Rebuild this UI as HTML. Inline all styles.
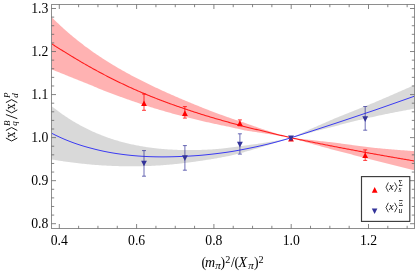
<!DOCTYPE html>
<html><head><meta charset="utf-8"><style>
html,body{margin:0;padding:0;background:#fff;}
svg{display:block;will-change:transform}
text{font-family:"Liberation Serif",serif;font-size:13.7px;fill:#000}
.it{font-style:italic}
</style></head><body>
<svg width="416" height="277" viewBox="0 0 416 277">
<rect width="416" height="277" fill="#fff"/>
<defs><clipPath id="c"><rect x="51.5" y="4.5" width="363.0" height="224.0"/></clipPath></defs>
<g clip-path="url(#c)">
<path d="M50.0,104.86 L51.0,105.67 L52.0,106.47 L53.0,107.27 L54.0,108.05 L55.0,108.82 L56.0,109.58 L57.0,110.34 L58.0,111.08 L59.0,111.82 L60.0,112.54 L61.0,113.26 L62.0,113.96 L63.0,114.66 L64.0,115.35 L65.0,116.03 L66.0,116.70 L67.0,117.36 L68.0,118.01 L69.0,118.65 L70.0,119.29 L71.0,119.91 L72.0,120.53 L73.0,121.14 L74.0,121.74 L75.0,122.33 L76.0,122.92 L77.0,123.49 L78.0,124.06 L79.0,124.62 L80.0,125.17 L81.0,125.72 L82.0,126.25 L83.0,126.78 L84.0,127.30 L85.0,127.81 L86.0,128.32 L87.0,128.81 L88.0,129.30 L89.0,129.79 L90.0,130.26 L91.0,130.73 L92.0,131.19 L93.0,131.64 L94.0,132.09 L95.0,132.53 L96.0,132.96 L97.0,133.39 L98.0,133.81 L99.0,134.22 L100.0,134.62 L101.0,135.02 L102.0,135.42 L103.0,135.80 L104.0,136.18 L105.0,136.55 L106.0,136.92 L107.0,137.28 L108.0,137.63 L109.0,137.98 L110.0,138.32 L111.0,138.66 L112.0,138.99 L113.0,139.31 L114.0,139.63 L115.0,139.94 L116.0,140.25 L117.0,140.55 L118.0,140.84 L119.0,141.13 L120.0,141.41 L121.0,141.69 L122.0,141.96 L123.0,142.23 L124.0,142.49 L125.0,142.75 L126.0,143.00 L127.0,143.24 L128.0,143.48 L129.0,143.72 L130.0,143.95 L131.0,144.18 L132.0,144.40 L133.0,144.61 L134.0,144.82 L135.0,145.03 L136.0,145.23 L137.0,145.42 L138.0,145.62 L139.0,145.80 L140.0,145.98 L141.0,146.16 L142.0,146.33 L143.0,146.50 L144.0,146.67 L145.0,146.83 L146.0,146.98 L147.0,147.13 L148.0,147.28 L149.0,147.42 L150.0,147.56 L151.0,147.70 L152.0,147.83 L153.0,147.95 L154.0,148.07 L155.0,148.19 L156.0,148.31 L157.0,148.42 L158.0,148.52 L159.0,148.63 L160.0,148.72 L161.0,148.82 L162.0,148.91 L163.0,149.00 L164.0,149.08 L165.0,149.16 L166.0,149.24 L167.0,149.31 L168.0,149.38 L169.0,149.45 L170.0,149.51 L171.0,149.57 L172.0,149.62 L173.0,149.68 L174.0,149.73 L175.0,149.77 L176.0,149.81 L177.0,149.85 L178.0,149.89 L179.0,149.92 L180.0,149.95 L181.0,149.98 L182.0,150.00 L183.0,150.02 L184.0,150.04 L185.0,150.06 L186.0,150.07 L187.0,150.08 L188.0,150.08 L189.0,150.08 L190.0,150.08 L191.0,150.08 L192.0,150.08 L193.0,150.07 L194.0,150.06 L195.0,150.04 L196.0,150.02 L197.0,150.00 L198.0,149.98 L199.0,149.96 L200.0,149.93 L201.0,149.90 L202.0,149.87 L203.0,149.83 L204.0,149.79 L205.0,149.75 L206.0,149.71 L207.0,149.66 L208.0,149.61 L209.0,149.56 L210.0,149.51 L211.0,149.46 L212.0,149.40 L213.0,149.34 L214.0,149.27 L215.0,149.21 L216.0,149.12 L217.0,149.02 L218.0,148.93 L219.0,148.83 L220.0,148.73 L221.0,148.63 L222.0,148.52 L223.0,148.42 L224.0,148.31 L225.0,148.19 L226.0,148.08 L227.0,147.96 L228.0,147.85 L229.0,147.73 L230.0,147.60 L231.0,147.48 L232.0,147.35 L233.0,147.22 L234.0,147.09 L235.0,146.96 L236.0,146.82 L237.0,146.68 L238.0,146.54 L239.0,146.40 L240.0,146.25 L241.0,146.11 L242.0,145.96 L243.0,145.81 L244.0,145.65 L245.0,145.50 L246.0,145.38 L247.0,145.25 L248.0,145.13 L249.0,145.00 L250.0,144.87 L251.0,144.74 L252.0,144.61 L253.0,144.47 L254.0,144.34 L255.0,144.20 L256.0,144.05 L257.0,143.91 L258.0,143.76 L259.0,143.62 L260.0,143.47 L261.0,143.31 L262.0,143.16 L263.0,143.00 L264.0,142.84 L265.0,142.68 L266.0,142.52 L267.0,142.35 L268.0,142.19 L269.0,142.02 L270.0,141.84 L271.0,141.67 L272.0,141.49 L273.0,141.31 L274.0,141.13 L275.0,140.95 L276.0,140.77 L277.0,140.59 L278.0,140.41 L279.0,140.22 L280.0,140.03 L281.0,139.84 L282.0,139.65 L283.0,139.45 L284.0,139.25 L285.0,139.05 L286.0,138.85 L287.0,138.64 L288.0,138.44 L289.0,138.23 L290.0,138.01 L291.0,137.80 L292.0,137.36 L293.0,136.91 L294.0,136.47 L295.0,136.02 L296.0,135.57 L297.0,135.13 L298.0,134.68 L299.0,134.23 L300.0,133.79 L301.0,133.34 L302.0,132.89 L303.0,132.44 L304.0,131.99 L305.0,131.54 L306.0,131.09 L307.0,130.64 L308.0,130.19 L309.0,129.74 L310.0,129.29 L311.0,128.86 L312.0,128.42 L313.0,127.99 L314.0,127.55 L315.0,127.12 L316.0,126.68 L317.0,126.25 L318.0,125.81 L319.0,125.37 L320.0,124.94 L321.0,124.50 L322.0,124.06 L323.0,123.62 L324.0,123.18 L325.0,122.74 L326.0,122.30 L327.0,121.86 L328.0,121.42 L329.0,120.98 L330.0,120.54 L331.0,120.10 L332.0,119.66 L333.0,119.21 L334.0,118.77 L335.0,118.33 L336.0,117.93 L337.0,117.54 L338.0,117.14 L339.0,116.75 L340.0,116.35 L341.0,115.95 L342.0,115.56 L343.0,115.16 L344.0,114.76 L345.0,114.36 L346.0,113.96 L347.0,113.56 L348.0,113.16 L349.0,112.76 L350.0,112.36 L351.0,111.96 L352.0,111.56 L353.0,111.16 L354.0,110.76 L355.0,110.36 L356.0,109.95 L357.0,109.55 L358.0,109.15 L359.0,108.74 L360.0,108.34 L361.0,107.93 L362.0,107.53 L363.0,107.12 L364.0,106.72 L365.0,106.31 L366.0,105.90 L367.0,105.50 L368.0,105.09 L369.0,104.68 L370.0,104.27 L371.0,103.86 L372.0,103.45 L373.0,103.04 L374.0,102.63 L375.0,102.22 L376.0,101.80 L377.0,101.37 L378.0,100.94 L379.0,100.51 L380.0,100.09 L381.0,99.66 L382.0,99.23 L383.0,98.80 L384.0,98.37 L385.0,97.94 L386.0,97.51 L387.0,97.07 L388.0,96.64 L389.0,96.21 L390.0,95.78 L391.0,95.34 L392.0,94.91 L393.0,94.48 L394.0,94.04 L395.0,93.61 L396.0,93.17 L397.0,92.74 L398.0,92.30 L399.0,91.87 L400.0,91.43 L401.0,90.99 L402.0,90.56 L403.0,90.12 L404.0,89.68 L405.0,89.24 L406.0,88.80 L407.0,88.36 L408.0,87.92 L409.0,87.48 L410.0,87.04 L411.0,86.60 L412.0,86.16 L413.0,85.72 L414.0,85.28 L415.0,84.83 L416.0,84.39 L417.0,83.95 L417.0,108.26 L416.0,108.43 L415.0,108.60 L414.0,108.77 L413.0,108.95 L412.0,109.12 L411.0,109.30 L410.0,109.48 L409.0,109.66 L408.0,109.84 L407.0,110.02 L406.0,110.20 L405.0,110.38 L404.0,110.57 L403.0,110.76 L402.0,110.94 L401.0,111.13 L400.0,111.32 L399.0,111.51 L398.0,111.71 L397.0,111.90 L396.0,112.09 L395.0,112.29 L394.0,112.49 L393.0,112.69 L392.0,112.89 L391.0,113.09 L390.0,113.29 L389.0,113.49 L388.0,113.70 L387.0,113.90 L386.0,114.11 L385.0,114.32 L384.0,114.52 L383.0,114.74 L382.0,114.95 L381.0,115.16 L380.0,115.37 L379.0,115.59 L378.0,115.81 L377.0,116.02 L376.0,116.24 L375.0,116.46 L374.0,116.68 L373.0,116.90 L372.0,117.13 L371.0,117.35 L370.0,117.57 L369.0,117.80 L368.0,118.03 L367.0,118.25 L366.0,118.48 L365.0,118.71 L364.0,118.95 L363.0,119.18 L362.0,119.41 L361.0,119.65 L360.0,119.89 L359.0,120.12 L358.0,120.36 L357.0,120.60 L356.0,120.85 L355.0,121.09 L354.0,121.33 L353.0,121.58 L352.0,121.82 L351.0,122.07 L350.0,122.32 L349.0,122.57 L348.0,122.82 L347.0,123.07 L346.0,123.33 L345.0,123.58 L344.0,123.84 L343.0,124.10 L342.0,124.35 L341.0,124.61 L340.0,124.87 L339.0,125.14 L338.0,125.40 L337.0,125.66 L336.0,125.93 L335.0,126.20 L334.0,126.44 L333.0,126.69 L332.0,126.93 L331.0,127.18 L330.0,127.43 L329.0,127.68 L328.0,127.93 L327.0,128.19 L326.0,128.44 L325.0,128.70 L324.0,128.95 L323.0,129.21 L322.0,129.47 L321.0,129.73 L320.0,129.99 L319.0,130.25 L318.0,130.52 L317.0,130.78 L316.0,131.05 L315.0,131.32 L314.0,131.58 L313.0,131.85 L312.0,132.13 L311.0,132.40 L310.0,132.67 L309.0,132.93 L308.0,133.19 L307.0,133.45 L306.0,133.71 L305.0,133.98 L304.0,134.24 L303.0,134.51 L302.0,134.78 L301.0,135.05 L300.0,135.32 L299.0,135.59 L298.0,135.86 L297.0,136.13 L296.0,136.41 L295.0,136.68 L294.0,136.96 L293.0,137.24 L292.0,137.52 L291.0,137.80 L290.0,138.13 L289.0,138.46 L288.0,138.78 L287.0,139.11 L286.0,139.44 L285.0,139.76 L284.0,140.09 L283.0,140.41 L282.0,140.73 L281.0,141.05 L280.0,141.37 L279.0,141.69 L278.0,142.01 L277.0,142.33 L276.0,142.65 L275.0,142.96 L274.0,143.28 L273.0,143.59 L272.0,143.90 L271.0,144.22 L270.0,144.53 L269.0,144.84 L268.0,145.15 L267.0,145.45 L266.0,145.76 L265.0,146.06 L264.0,146.37 L263.0,146.67 L262.0,146.97 L261.0,147.27 L260.0,147.57 L259.0,147.87 L258.0,148.16 L257.0,148.45 L256.0,148.75 L255.0,149.04 L254.0,149.33 L253.0,149.62 L252.0,149.90 L251.0,150.19 L250.0,150.47 L249.0,150.75 L248.0,151.03 L247.0,151.31 L246.0,151.59 L245.0,151.86 L244.0,152.14 L243.0,152.42 L242.0,152.69 L241.0,152.96 L240.0,153.23 L239.0,153.50 L238.0,153.77 L237.0,154.03 L236.0,154.29 L235.0,154.55 L234.0,154.81 L233.0,155.07 L232.0,155.33 L231.0,155.53 L230.0,155.74 L229.0,155.94 L228.0,156.14 L227.0,156.34 L226.0,156.53 L225.0,156.73 L224.0,156.92 L223.0,157.11 L222.0,157.30 L221.0,157.48 L220.0,157.67 L219.0,157.85 L218.0,158.03 L217.0,158.21 L216.0,158.38 L215.0,158.56 L214.0,158.73 L213.0,158.90 L212.0,159.07 L211.0,159.23 L210.0,159.40 L209.0,159.56 L208.0,159.72 L207.0,159.87 L206.0,160.03 L205.0,160.18 L204.0,160.33 L203.0,160.48 L202.0,160.63 L201.0,160.77 L200.0,160.91 L199.0,161.07 L198.0,161.22 L197.0,161.37 L196.0,161.52 L195.0,161.66 L194.0,161.81 L193.0,161.95 L192.0,162.08 L191.0,162.22 L190.0,162.35 L189.0,162.49 L188.0,162.61 L187.0,162.74 L186.0,162.87 L185.0,162.99 L184.0,163.11 L183.0,163.23 L182.0,163.34 L181.0,163.45 L180.0,163.56 L179.0,163.68 L178.0,163.79 L177.0,163.90 L176.0,164.00 L175.0,164.11 L174.0,164.21 L173.0,164.31 L172.0,164.41 L171.0,164.50 L170.0,164.59 L169.0,164.68 L168.0,164.77 L167.0,164.86 L166.0,164.94 L165.0,165.02 L164.0,165.09 L163.0,165.17 L162.0,165.24 L161.0,165.31 L160.0,165.38 L159.0,165.44 L158.0,165.51 L157.0,165.57 L156.0,165.62 L155.0,165.68 L154.0,165.73 L153.0,165.78 L152.0,165.83 L151.0,165.88 L150.0,165.92 L149.0,165.96 L148.0,166.00 L147.0,166.03 L146.0,166.06 L145.0,166.09 L144.0,166.12 L143.0,166.15 L142.0,166.17 L141.0,166.19 L140.0,166.21 L139.0,166.22 L138.0,166.24 L137.0,166.25 L136.0,166.25 L135.0,166.26 L134.0,166.26 L133.0,166.26 L132.0,166.26 L131.0,166.25 L130.0,166.25 L129.0,166.25 L128.0,166.25 L127.0,166.25 L126.0,166.24 L125.0,166.23 L124.0,166.22 L123.0,166.21 L122.0,166.20 L121.0,166.18 L120.0,166.16 L119.0,166.14 L118.0,166.11 L117.0,166.08 L116.0,166.05 L115.0,166.02 L114.0,165.99 L113.0,165.95 L112.0,165.91 L111.0,165.87 L110.0,165.83 L109.0,165.78 L108.0,165.73 L107.0,165.68 L106.0,165.62 L105.0,165.57 L104.0,165.51 L103.0,165.45 L102.0,165.39 L101.0,165.32 L100.0,165.25 L99.0,165.18 L98.0,165.11 L97.0,165.03 L96.0,164.96 L95.0,164.88 L94.0,164.80 L93.0,164.71 L92.0,164.63 L91.0,164.54 L90.0,164.45 L89.0,164.36 L88.0,164.27 L87.0,164.17 L86.0,164.07 L85.0,163.97 L84.0,163.87 L83.0,163.77 L82.0,163.66 L81.0,163.55 L80.0,163.44 L79.0,163.33 L78.0,163.21 L77.0,163.10 L76.0,162.98 L75.0,162.86 L74.0,162.73 L73.0,162.61 L72.0,162.48 L71.0,162.35 L70.0,162.22 L69.0,162.08 L68.0,161.95 L67.0,161.81 L66.0,161.67 L65.0,161.53 L64.0,161.38 L63.0,161.24 L62.0,161.09 L61.0,160.94 L60.0,160.79 L59.0,160.64 L58.0,160.48 L57.0,160.32 L56.0,160.17 L55.0,160.00 L54.0,159.84 L53.0,159.68 L52.0,159.51 L51.0,159.33 L50.0,159.15Z" fill="#808080" fill-opacity="0.3"/>
<path d="M50.0,15.45 L51.0,16.47 L52.0,17.48 L53.0,18.48 L54.0,19.47 L55.0,20.45 L56.0,21.42 L57.0,22.38 L58.0,23.34 L59.0,24.28 L60.0,25.22 L61.0,26.15 L62.0,27.07 L63.0,27.98 L64.0,28.88 L65.0,29.78 L66.0,30.67 L67.0,31.55 L68.0,32.42 L69.0,33.28 L70.0,34.14 L71.0,34.99 L72.0,35.83 L73.0,36.67 L74.0,37.49 L75.0,38.31 L76.0,39.12 L77.0,39.93 L78.0,40.73 L79.0,41.52 L80.0,42.30 L81.0,43.08 L82.0,43.85 L83.0,44.62 L84.0,45.38 L85.0,46.13 L86.0,46.88 L87.0,47.62 L88.0,48.35 L89.0,49.08 L90.0,49.80 L91.0,50.51 L92.0,51.22 L93.0,51.93 L94.0,52.63 L95.0,53.32 L96.0,54.01 L97.0,54.69 L98.0,55.37 L99.0,56.04 L100.0,56.70 L101.0,57.37 L102.0,58.02 L103.0,58.67 L104.0,59.32 L105.0,59.96 L106.0,60.60 L107.0,61.23 L108.0,61.86 L109.0,62.48 L110.0,63.10 L111.0,63.71 L112.0,64.32 L113.0,64.92 L114.0,65.52 L115.0,66.12 L116.0,66.71 L117.0,67.30 L118.0,67.89 L119.0,68.47 L120.0,69.04 L121.0,69.61 L122.0,70.18 L123.0,70.75 L124.0,71.31 L125.0,71.87 L126.0,72.42 L127.0,72.97 L128.0,73.52 L129.0,74.06 L130.0,74.60 L131.0,75.14 L132.0,75.68 L133.0,76.21 L134.0,76.73 L135.0,77.26 L136.0,77.78 L137.0,78.30 L138.0,78.82 L139.0,79.33 L140.0,79.84 L141.0,80.35 L142.0,80.85 L143.0,81.35 L144.0,81.85 L145.0,82.35 L146.0,82.84 L147.0,83.33 L148.0,83.82 L149.0,84.31 L150.0,84.79 L151.0,85.28 L152.0,85.76 L153.0,86.23 L154.0,86.71 L155.0,87.18 L156.0,87.65 L157.0,88.12 L158.0,88.59 L159.0,89.05 L160.0,89.51 L161.0,89.97 L162.0,90.43 L163.0,90.89 L164.0,91.34 L165.0,91.80 L166.0,92.25 L167.0,92.70 L168.0,93.15 L169.0,93.59 L170.0,94.04 L171.0,94.48 L172.0,94.92 L173.0,95.36 L174.0,95.79 L175.0,96.23 L176.0,96.67 L177.0,97.10 L178.0,97.53 L179.0,97.96 L180.0,98.39 L181.0,98.81 L182.0,99.24 L183.0,99.66 L184.0,100.09 L185.0,100.51 L186.0,100.93 L187.0,101.35 L188.0,101.76 L189.0,102.18 L190.0,102.60 L191.0,103.01 L192.0,103.42 L193.0,103.83 L194.0,104.24 L195.0,104.65 L196.0,105.06 L197.0,105.47 L198.0,105.87 L199.0,106.27 L200.0,106.68 L201.0,107.08 L202.0,107.48 L203.0,107.88 L204.0,108.28 L205.0,108.68 L206.0,109.07 L207.0,109.47 L208.0,109.86 L209.0,110.25 L210.0,110.64 L211.0,111.04 L212.0,111.42 L213.0,111.81 L214.0,112.20 L215.0,112.59 L216.0,112.95 L217.0,113.32 L218.0,113.68 L219.0,114.04 L220.0,114.40 L221.0,114.76 L222.0,115.12 L223.0,115.48 L224.0,115.83 L225.0,116.19 L226.0,116.54 L227.0,116.90 L228.0,117.25 L229.0,117.60 L230.0,117.95 L231.0,118.29 L232.0,118.63 L233.0,118.97 L234.0,119.31 L235.0,119.64 L236.0,119.98 L237.0,120.31 L238.0,120.65 L239.0,120.98 L240.0,121.31 L241.0,121.64 L242.0,121.97 L243.0,122.29 L244.0,122.62 L245.0,122.94 L246.0,123.30 L247.0,123.67 L248.0,124.03 L249.0,124.38 L250.0,124.74 L251.0,125.09 L252.0,125.45 L253.0,125.80 L254.0,126.15 L255.0,126.50 L256.0,126.85 L257.0,127.19 L258.0,127.54 L259.0,127.88 L260.0,128.22 L261.0,128.56 L262.0,128.89 L263.0,129.23 L264.0,129.56 L265.0,129.89 L266.0,130.22 L267.0,130.55 L268.0,130.87 L269.0,131.20 L270.0,131.52 L271.0,131.84 L272.0,132.15 L273.0,132.47 L274.0,132.78 L275.0,133.09 L276.0,133.40 L277.0,133.71 L278.0,134.02 L279.0,134.33 L280.0,134.63 L281.0,134.93 L282.0,135.23 L283.0,135.53 L284.0,135.82 L285.0,136.11 L286.0,136.40 L287.0,136.69 L288.0,136.97 L289.0,137.25 L290.0,137.53 L291.0,137.80 L292.0,137.91 L293.0,138.03 L294.0,138.14 L295.0,138.25 L296.0,138.37 L297.0,138.48 L298.0,138.59 L299.0,138.70 L300.0,138.81 L301.0,138.92 L302.0,139.03 L303.0,139.13 L304.0,139.24 L305.0,139.35 L306.0,139.45 L307.0,139.56 L308.0,139.66 L309.0,139.77 L310.0,139.87 L311.0,139.99 L312.0,140.11 L313.0,140.22 L314.0,140.34 L315.0,140.46 L316.0,140.57 L317.0,140.69 L318.0,140.80 L319.0,140.91 L320.0,141.03 L321.0,141.14 L322.0,141.25 L323.0,141.36 L324.0,141.47 L325.0,141.58 L326.0,141.69 L327.0,141.80 L328.0,141.91 L329.0,142.01 L330.0,142.12 L331.0,142.23 L332.0,142.33 L333.0,142.44 L334.0,142.54 L335.0,142.64 L336.0,142.79 L337.0,142.93 L338.0,143.07 L339.0,143.21 L340.0,143.36 L341.0,143.50 L342.0,143.64 L343.0,143.78 L344.0,143.91 L345.0,144.05 L346.0,144.19 L347.0,144.33 L348.0,144.46 L349.0,144.60 L350.0,144.73 L351.0,144.87 L352.0,145.00 L353.0,145.13 L354.0,145.27 L355.0,145.40 L356.0,145.53 L357.0,145.66 L358.0,145.79 L359.0,145.92 L360.0,146.05 L361.0,146.18 L362.0,146.30 L363.0,146.43 L364.0,146.56 L365.0,146.68 L366.0,146.81 L367.0,146.93 L368.0,147.06 L369.0,147.18 L370.0,147.30 L371.0,147.42 L372.0,147.54 L373.0,147.67 L374.0,147.78 L375.0,147.90 L376.0,148.00 L377.0,148.09 L378.0,148.18 L379.0,148.28 L380.0,148.37 L381.0,148.46 L382.0,148.55 L383.0,148.64 L384.0,148.73 L385.0,148.81 L386.0,148.90 L387.0,148.99 L388.0,149.07 L389.0,149.16 L390.0,149.24 L391.0,149.33 L392.0,149.41 L393.0,149.50 L394.0,149.58 L395.0,149.66 L396.0,149.74 L397.0,149.82 L398.0,149.90 L399.0,149.98 L400.0,150.06 L401.0,150.14 L402.0,150.22 L403.0,150.29 L404.0,150.37 L405.0,150.44 L406.0,150.52 L407.0,150.59 L408.0,150.67 L409.0,150.74 L410.0,150.81 L411.0,150.88 L412.0,150.96 L413.0,151.03 L414.0,151.10 L415.0,151.17 L416.0,151.23 L417.0,151.30 L417.0,171.08 L416.0,170.83 L415.0,170.58 L414.0,170.33 L413.0,170.08 L412.0,169.83 L411.0,169.58 L410.0,169.33 L409.0,169.07 L408.0,168.82 L407.0,168.57 L406.0,168.32 L405.0,168.07 L404.0,167.82 L403.0,167.56 L402.0,167.31 L401.0,167.06 L400.0,166.81 L399.0,166.56 L398.0,166.30 L397.0,166.05 L396.0,165.80 L395.0,165.54 L394.0,165.29 L393.0,165.04 L392.0,164.78 L391.0,164.53 L390.0,164.28 L389.0,164.02 L388.0,163.77 L387.0,163.52 L386.0,163.26 L385.0,163.01 L384.0,162.75 L383.0,162.50 L382.0,162.24 L381.0,161.99 L380.0,161.73 L379.0,161.48 L378.0,161.22 L377.0,160.97 L376.0,160.71 L375.0,160.46 L374.0,160.21 L373.0,159.95 L372.0,159.70 L371.0,159.45 L370.0,159.20 L369.0,158.94 L368.0,158.69 L367.0,158.44 L366.0,158.18 L365.0,157.93 L364.0,157.68 L363.0,157.42 L362.0,157.17 L361.0,156.91 L360.0,156.66 L359.0,156.40 L358.0,156.15 L357.0,155.90 L356.0,155.64 L355.0,155.39 L354.0,155.13 L353.0,154.88 L352.0,154.62 L351.0,154.37 L350.0,154.11 L349.0,153.86 L348.0,153.60 L347.0,153.34 L346.0,153.09 L345.0,152.83 L344.0,152.58 L343.0,152.32 L342.0,152.06 L341.0,151.81 L340.0,151.55 L339.0,151.29 L338.0,151.04 L337.0,150.78 L336.0,150.52 L335.0,150.27 L334.0,149.99 L333.0,149.71 L332.0,149.44 L331.0,149.16 L330.0,148.88 L329.0,148.60 L328.0,148.33 L327.0,148.05 L326.0,147.77 L325.0,147.49 L324.0,147.21 L323.0,146.94 L322.0,146.66 L321.0,146.38 L320.0,146.10 L319.0,145.82 L318.0,145.54 L317.0,145.26 L316.0,144.99 L315.0,144.71 L314.0,144.43 L313.0,144.15 L312.0,143.87 L311.0,143.59 L310.0,143.31 L309.0,143.02 L308.0,142.73 L307.0,142.44 L306.0,142.15 L305.0,141.86 L304.0,141.57 L303.0,141.28 L302.0,141.00 L301.0,140.71 L300.0,140.42 L299.0,140.13 L298.0,139.83 L297.0,139.54 L296.0,139.25 L295.0,138.96 L294.0,138.67 L293.0,138.38 L292.0,138.09 L291.0,137.80 L290.0,137.62 L289.0,137.44 L288.0,137.26 L287.0,137.08 L286.0,136.91 L285.0,136.73 L284.0,136.56 L283.0,136.39 L282.0,136.22 L281.0,136.06 L280.0,135.89 L279.0,135.73 L278.0,135.56 L277.0,135.40 L276.0,135.24 L275.0,135.08 L274.0,134.92 L273.0,134.76 L272.0,134.59 L271.0,134.43 L270.0,134.28 L269.0,134.12 L268.0,133.96 L267.0,133.80 L266.0,133.65 L265.0,133.49 L264.0,133.34 L263.0,133.18 L262.0,133.03 L261.0,132.87 L260.0,132.72 L259.0,132.57 L258.0,132.41 L257.0,132.26 L256.0,132.11 L255.0,131.96 L254.0,131.81 L253.0,131.66 L252.0,131.50 L251.0,131.35 L250.0,131.20 L249.0,131.05 L248.0,130.90 L247.0,130.74 L246.0,130.59 L245.0,130.44 L244.0,130.21 L243.0,129.99 L242.0,129.76 L241.0,129.53 L240.0,129.31 L239.0,129.08 L238.0,128.85 L237.0,128.62 L236.0,128.39 L235.0,128.16 L234.0,127.93 L233.0,127.70 L232.0,127.47 L231.0,127.24 L230.0,127.00 L229.0,126.80 L228.0,126.60 L227.0,126.40 L226.0,126.20 L225.0,125.99 L224.0,125.79 L223.0,125.58 L222.0,125.38 L221.0,125.17 L220.0,124.96 L219.0,124.75 L218.0,124.54 L217.0,124.33 L216.0,124.12 L215.0,123.90 L214.0,123.69 L213.0,123.47 L212.0,123.26 L211.0,123.04 L210.0,122.82 L209.0,122.59 L208.0,122.37 L207.0,122.15 L206.0,121.92 L205.0,121.69 L204.0,121.47 L203.0,121.24 L202.0,121.01 L201.0,120.77 L200.0,120.54 L199.0,120.30 L198.0,120.07 L197.0,119.83 L196.0,119.59 L195.0,119.34 L194.0,119.10 L193.0,118.86 L192.0,118.61 L191.0,118.36 L190.0,118.11 L189.0,117.86 L188.0,117.61 L187.0,117.35 L186.0,117.09 L185.0,116.84 L184.0,116.57 L183.0,116.31 L182.0,116.05 L181.0,115.78 L180.0,115.52 L179.0,115.26 L178.0,114.99 L177.0,114.73 L176.0,114.46 L175.0,114.19 L174.0,113.92 L173.0,113.65 L172.0,113.38 L171.0,113.10 L170.0,112.82 L169.0,112.54 L168.0,112.26 L167.0,111.98 L166.0,111.70 L165.0,111.41 L164.0,111.12 L163.0,110.83 L162.0,110.54 L161.0,110.24 L160.0,109.95 L159.0,109.65 L158.0,109.35 L157.0,109.05 L156.0,108.74 L155.0,108.44 L154.0,108.13 L153.0,107.82 L152.0,107.51 L151.0,107.20 L150.0,106.88 L149.0,106.56 L148.0,106.24 L147.0,105.92 L146.0,105.60 L145.0,105.28 L144.0,104.95 L143.0,104.62 L142.0,104.29 L141.0,103.96 L140.0,103.63 L139.0,103.29 L138.0,102.96 L137.0,102.62 L136.0,102.28 L135.0,101.93 L134.0,101.59 L133.0,101.24 L132.0,100.90 L131.0,100.55 L130.0,100.20 L129.0,99.85 L128.0,99.50 L127.0,99.15 L126.0,98.79 L125.0,98.44 L124.0,98.08 L123.0,97.72 L122.0,97.36 L121.0,97.00 L120.0,96.64 L119.0,96.27 L118.0,95.91 L117.0,95.54 L116.0,95.17 L115.0,94.80 L114.0,94.43 L113.0,94.05 L112.0,93.68 L111.0,93.30 L110.0,92.93 L109.0,92.55 L108.0,92.17 L107.0,91.78 L106.0,91.40 L105.0,91.02 L104.0,90.63 L103.0,90.24 L102.0,89.86 L101.0,89.47 L100.0,89.08 L99.0,88.64 L98.0,88.20 L97.0,87.76 L96.0,87.33 L95.0,86.89 L94.0,86.44 L93.0,86.00 L92.0,85.56 L91.0,85.17 L90.0,84.77 L89.0,84.38 L88.0,83.99 L87.0,83.59 L86.0,83.20 L85.0,82.80 L84.0,82.40 L83.0,82.00 L82.0,81.61 L81.0,81.21 L80.0,80.81 L79.0,80.41 L78.0,80.01 L77.0,79.60 L76.0,79.20 L75.0,78.80 L74.0,78.40 L73.0,77.99 L72.0,77.59 L71.0,77.19 L70.0,76.78 L69.0,76.38 L68.0,75.98 L67.0,75.57 L66.0,75.17 L65.0,74.76 L64.0,74.36 L63.0,73.95 L62.0,73.55 L61.0,73.15 L60.0,72.74 L59.0,72.34 L58.0,71.93 L57.0,71.53 L56.0,71.13 L55.0,70.73 L54.0,70.32 L53.0,69.92 L52.0,69.52 L51.0,69.11 L50.0,68.69Z" fill="#ff0000" fill-opacity="0.3"/>
<path d="M50.0,132.33 L51.0,132.88 L52.0,133.42 L53.0,133.93 L54.0,134.44 L55.0,134.94 L56.0,135.43 L57.0,135.91 L58.0,136.38 L59.0,136.85 L60.0,137.31 L61.0,137.76 L62.0,138.21 L63.0,138.64 L64.0,139.08 L65.0,139.50 L66.0,139.91 L67.0,140.32 L68.0,140.73 L69.0,141.12 L70.0,141.51 L71.0,141.89 L72.0,142.27 L73.0,142.64 L74.0,143.00 L75.0,143.35 L76.0,143.70 L77.0,144.04 L78.0,144.38 L79.0,144.71 L80.0,145.03 L81.0,145.35 L82.0,145.66 L83.0,145.97 L84.0,146.27 L85.0,146.56 L86.0,146.85 L87.0,147.13 L88.0,147.41 L89.0,147.68 L90.0,147.94 L91.0,148.20 L92.0,148.45 L93.0,148.72 L94.0,148.98 L95.0,149.24 L96.0,149.49 L97.0,149.74 L98.0,149.98 L99.0,150.21 L100.0,150.44 L101.0,150.67 L102.0,150.89 L103.0,151.11 L104.0,151.32 L105.0,151.52 L106.0,151.72 L107.0,151.92 L108.0,152.11 L109.0,152.30 L110.0,152.48 L111.0,152.66 L112.0,152.83 L113.0,153.00 L114.0,153.16 L115.0,153.32 L116.0,153.48 L117.0,153.63 L118.0,153.77 L119.0,153.92 L120.0,154.06 L121.0,154.20 L122.0,154.33 L123.0,154.47 L124.0,154.60 L125.0,154.72 L126.0,154.84 L127.0,154.96 L128.0,155.07 L129.0,155.18 L130.0,155.29 L131.0,155.39 L132.0,155.49 L133.0,155.58 L134.0,155.67 L135.0,155.76 L136.0,155.84 L137.0,155.92 L138.0,156.00 L139.0,156.07 L140.0,156.14 L141.0,156.21 L142.0,156.27 L143.0,156.33 L144.0,156.39 L145.0,156.44 L146.0,156.49 L147.0,156.54 L148.0,156.58 L149.0,156.63 L150.0,156.66 L151.0,156.70 L152.0,156.73 L153.0,156.76 L154.0,156.78 L155.0,156.80 L156.0,156.82 L157.0,156.84 L158.0,156.85 L159.0,156.87 L160.0,156.87 L161.0,156.88 L162.0,156.88 L163.0,156.88 L164.0,156.88 L165.0,156.87 L166.0,156.86 L167.0,156.85 L168.0,156.84 L169.0,156.82 L170.0,156.81 L171.0,156.78 L172.0,156.76 L173.0,156.73 L174.0,156.71 L175.0,156.67 L176.0,156.64 L177.0,156.60 L178.0,156.57 L179.0,156.52 L180.0,156.48 L181.0,156.45 L182.0,156.41 L183.0,156.37 L184.0,156.33 L185.0,156.29 L186.0,156.24 L187.0,156.19 L188.0,156.14 L189.0,156.09 L190.0,156.04 L191.0,155.98 L192.0,155.92 L193.0,155.86 L194.0,155.80 L195.0,155.73 L196.0,155.66 L197.0,155.59 L198.0,155.52 L199.0,155.45 L200.0,155.37 L201.0,155.28 L202.0,155.19 L203.0,155.09 L204.0,155.00 L205.0,154.90 L206.0,154.80 L207.0,154.70 L208.0,154.59 L209.0,154.48 L210.0,154.38 L211.0,154.27 L212.0,154.15 L213.0,154.04 L214.0,153.92 L215.0,153.80 L216.0,153.68 L217.0,153.56 L218.0,153.43 L219.0,153.31 L220.0,153.18 L221.0,153.05 L222.0,152.92 L223.0,152.78 L224.0,152.64 L225.0,152.51 L226.0,152.37 L227.0,152.22 L228.0,152.08 L229.0,151.93 L230.0,151.78 L231.0,151.63 L232.0,151.48 L233.0,151.31 L234.0,151.13 L235.0,150.95 L236.0,150.77 L237.0,150.59 L238.0,150.41 L239.0,150.22 L240.0,150.04 L241.0,149.85 L242.0,149.66 L243.0,149.46 L244.0,149.27 L245.0,149.07 L246.0,148.88 L247.0,148.68 L248.0,148.48 L249.0,148.28 L250.0,148.08 L251.0,147.88 L252.0,147.67 L253.0,147.47 L254.0,147.26 L255.0,147.04 L256.0,146.83 L257.0,146.61 L258.0,146.39 L259.0,146.17 L260.0,145.95 L261.0,145.72 L262.0,145.49 L263.0,145.26 L264.0,145.03 L265.0,144.80 L266.0,144.56 L267.0,144.32 L268.0,144.08 L269.0,143.83 L270.0,143.58 L271.0,143.34 L272.0,143.08 L273.0,142.83 L274.0,142.57 L275.0,142.31 L276.0,142.05 L277.0,141.79 L278.0,141.52 L279.0,141.25 L280.0,140.98 L281.0,140.70 L282.0,140.42 L283.0,140.14 L284.0,139.86 L285.0,139.57 L286.0,139.29 L287.0,138.99 L288.0,138.70 L289.0,138.40 L290.0,138.10 L291.0,137.80 L292.0,137.48 L293.0,137.15 L294.0,136.83 L295.0,136.51 L296.0,136.18 L297.0,135.86 L298.0,135.54 L299.0,135.21 L300.0,134.89 L301.0,134.56 L302.0,134.24 L303.0,133.91 L304.0,133.59 L305.0,133.26 L306.0,132.94 L307.0,132.62 L308.0,132.29 L309.0,131.96 L310.0,131.64 L311.0,131.31 L312.0,130.99 L313.0,130.66 L314.0,130.34 L315.0,130.01 L316.0,129.68 L317.0,129.36 L318.0,129.03 L319.0,128.71 L320.0,128.38 L321.0,128.05 L322.0,127.73 L323.0,127.40 L324.0,127.07 L325.0,126.74 L326.0,126.42 L327.0,126.09 L328.0,125.76 L329.0,125.43 L330.0,125.11 L331.0,124.78 L332.0,124.45 L333.0,124.12 L334.0,123.79 L335.0,123.46 L336.0,123.13 L337.0,122.80 L338.0,122.47 L339.0,122.13 L340.0,121.80 L341.0,121.47 L342.0,121.13 L343.0,120.80 L344.0,120.47 L345.0,120.13 L346.0,119.80 L347.0,119.46 L348.0,119.13 L349.0,118.79 L350.0,118.46 L351.0,118.13 L352.0,117.79 L353.0,117.46 L354.0,117.12 L355.0,116.79 L356.0,116.45 L357.0,116.12 L358.0,115.78 L359.0,115.44 L360.0,115.11 L361.0,114.77 L362.0,114.44 L363.0,114.10 L364.0,113.76 L365.0,113.43 L366.0,113.09 L367.0,112.76 L368.0,112.42 L369.0,112.08 L370.0,111.74 L371.0,111.41 L372.0,111.07 L373.0,110.73 L374.0,110.40 L375.0,110.06 L376.0,109.71 L377.0,109.36 L378.0,109.01 L379.0,108.66 L380.0,108.31 L381.0,107.96 L382.0,107.61 L383.0,107.26 L384.0,106.91 L385.0,106.56 L386.0,106.21 L387.0,105.86 L388.0,105.51 L389.0,105.16 L390.0,104.80 L391.0,104.45 L392.0,104.10 L393.0,103.75 L394.0,103.40 L395.0,103.05 L396.0,102.69 L397.0,102.34 L398.0,101.99 L399.0,101.64 L400.0,101.29 L401.0,100.93 L402.0,100.58 L403.0,100.23 L404.0,99.88 L405.0,99.52 L406.0,99.17 L407.0,98.82 L408.0,98.46 L409.0,98.11 L410.0,97.76 L411.0,97.40 L412.0,97.05 L413.0,96.69 L414.0,96.34 L415.0,95.99 L416.0,95.63 L417.0,95.28" fill="none" stroke="#3a3af2" stroke-width="1.0"/>
<path d="M50.0,42.69 L51.0,43.36 L52.0,44.03 L53.0,44.67 L54.0,45.31 L55.0,45.94 L56.0,46.58 L57.0,47.21 L58.0,47.83 L59.0,48.46 L60.0,49.08 L61.0,49.70 L62.0,50.31 L63.0,50.93 L64.0,51.54 L65.0,52.14 L66.0,52.75 L67.0,53.38 L68.0,54.00 L69.0,54.62 L70.0,55.23 L71.0,55.85 L72.0,56.46 L73.0,57.07 L74.0,57.68 L75.0,58.28 L76.0,58.88 L77.0,59.48 L78.0,60.07 L79.0,60.67 L80.0,61.26 L81.0,61.84 L82.0,62.43 L83.0,63.01 L84.0,63.59 L85.0,64.16 L86.0,64.74 L87.0,65.31 L88.0,65.88 L89.0,66.44 L90.0,67.00 L91.0,67.56 L92.0,68.12 L93.0,68.68 L94.0,69.23 L95.0,69.78 L96.0,70.32 L97.0,70.87 L98.0,71.41 L99.0,71.94 L100.0,72.48 L101.0,73.01 L102.0,73.55 L103.0,74.08 L104.0,74.60 L105.0,75.13 L106.0,75.65 L107.0,76.17 L108.0,76.68 L109.0,77.20 L110.0,77.71 L111.0,78.22 L112.0,78.72 L113.0,79.22 L114.0,79.72 L115.0,80.22 L116.0,80.72 L117.0,81.21 L118.0,81.70 L119.0,82.18 L120.0,82.67 L121.0,83.15 L122.0,83.63 L123.0,84.10 L124.0,84.58 L125.0,85.05 L126.0,85.52 L127.0,85.98 L128.0,86.45 L129.0,86.91 L130.0,87.36 L131.0,87.82 L132.0,88.27 L133.0,88.72 L134.0,89.17 L135.0,89.61 L136.0,90.06 L137.0,90.49 L138.0,90.93 L139.0,91.37 L140.0,91.80 L141.0,92.23 L142.0,92.66 L143.0,93.08 L144.0,93.50 L145.0,93.92 L146.0,94.34 L147.0,94.75 L148.0,95.17 L149.0,95.58 L150.0,95.99 L151.0,96.39 L152.0,96.79 L153.0,97.19 L154.0,97.59 L155.0,97.99 L156.0,98.38 L157.0,98.77 L158.0,99.16 L159.0,99.55 L160.0,99.93 L161.0,100.32 L162.0,100.70 L163.0,101.07 L164.0,101.45 L165.0,101.82 L166.0,102.19 L167.0,102.56 L168.0,102.93 L169.0,103.29 L170.0,103.66 L171.0,104.02 L172.0,104.38 L173.0,104.73 L174.0,105.09 L175.0,105.44 L176.0,105.79 L177.0,106.14 L178.0,106.48 L179.0,106.83 L180.0,107.17 L181.0,107.52 L182.0,107.87 L183.0,108.21 L184.0,108.56 L185.0,108.90 L186.0,109.24 L187.0,109.58 L188.0,109.92 L189.0,110.25 L190.0,110.58 L191.0,110.92 L192.0,111.25 L193.0,111.57 L194.0,111.90 L195.0,112.22 L196.0,112.55 L197.0,112.87 L198.0,113.19 L199.0,113.50 L200.0,113.82 L201.0,114.14 L202.0,114.45 L203.0,114.76 L204.0,115.07 L205.0,115.38 L206.0,115.68 L207.0,115.99 L208.0,116.29 L209.0,116.60 L210.0,116.90 L211.0,117.20 L212.0,117.49 L213.0,117.79 L214.0,118.09 L215.0,118.38 L216.0,118.67 L217.0,118.96 L218.0,119.25 L219.0,119.54 L220.0,119.83 L221.0,120.12 L222.0,120.40 L223.0,120.69 L224.0,120.97 L225.0,121.25 L226.0,121.53 L227.0,121.81 L228.0,122.09 L229.0,122.37 L230.0,122.65 L231.0,122.92 L232.0,123.20 L233.0,123.47 L234.0,123.75 L235.0,124.02 L236.0,124.29 L237.0,124.56 L238.0,124.83 L239.0,125.10 L240.0,125.37 L241.0,125.64 L242.0,125.91 L243.0,126.17 L244.0,126.44 L245.0,126.70 L246.0,126.95 L247.0,127.19 L248.0,127.44 L249.0,127.68 L250.0,127.93 L251.0,128.17 L252.0,128.41 L253.0,128.65 L254.0,128.90 L255.0,129.14 L256.0,129.38 L257.0,129.62 L258.0,129.86 L259.0,130.10 L260.0,130.34 L261.0,130.58 L262.0,130.82 L263.0,131.06 L264.0,131.30 L265.0,131.54 L266.0,131.78 L267.0,132.02 L268.0,132.26 L269.0,132.50 L270.0,132.74 L271.0,132.99 L272.0,133.23 L273.0,133.47 L274.0,133.71 L275.0,133.95 L276.0,134.19 L277.0,134.42 L278.0,134.66 L279.0,134.90 L280.0,135.14 L281.0,135.38 L282.0,135.62 L283.0,135.86 L284.0,136.10 L285.0,136.34 L286.0,136.58 L287.0,136.82 L288.0,137.07 L289.0,137.31 L290.0,137.55 L291.0,137.80 L292.0,138.01 L293.0,138.22 L294.0,138.42 L295.0,138.63 L296.0,138.84 L297.0,139.04 L298.0,139.25 L299.0,139.46 L300.0,139.66 L301.0,139.87 L302.0,140.07 L303.0,140.28 L304.0,140.48 L305.0,140.69 L306.0,140.89 L307.0,141.09 L308.0,141.30 L309.0,141.50 L310.0,141.70 L311.0,141.90 L312.0,142.10 L313.0,142.31 L314.0,142.51 L315.0,142.71 L316.0,142.91 L317.0,143.11 L318.0,143.31 L319.0,143.51 L320.0,143.70 L321.0,143.90 L322.0,144.10 L323.0,144.30 L324.0,144.50 L325.0,144.69 L326.0,144.89 L327.0,145.09 L328.0,145.28 L329.0,145.48 L330.0,145.68 L331.0,145.87 L332.0,146.07 L333.0,146.26 L334.0,146.45 L335.0,146.65 L336.0,146.84 L337.0,147.04 L338.0,147.23 L339.0,147.42 L340.0,147.61 L341.0,147.80 L342.0,148.00 L343.0,148.19 L344.0,148.38 L345.0,148.57 L346.0,148.76 L347.0,148.95 L348.0,149.14 L349.0,149.33 L350.0,149.52 L351.0,149.70 L352.0,149.89 L353.0,150.08 L354.0,150.27 L355.0,150.45 L356.0,150.64 L357.0,150.83 L358.0,151.01 L359.0,151.20 L360.0,151.39 L361.0,151.57 L362.0,151.76 L363.0,151.94 L364.0,152.12 L365.0,152.31 L366.0,152.49 L367.0,152.67 L368.0,152.86 L369.0,153.04 L370.0,153.22 L371.0,153.40 L372.0,153.58 L373.0,153.77 L374.0,153.95 L375.0,154.13 L376.0,154.31 L377.0,154.49 L378.0,154.67 L379.0,154.85 L380.0,155.02 L381.0,155.20 L382.0,155.38 L383.0,155.56 L384.0,155.74 L385.0,155.91 L386.0,156.09 L387.0,156.27 L388.0,156.44 L389.0,156.62 L390.0,156.79 L391.0,156.97 L392.0,157.14 L393.0,157.32 L394.0,157.49 L395.0,157.66 L396.0,157.84 L397.0,158.01 L398.0,158.18 L399.0,158.36 L400.0,158.53 L401.0,158.70 L402.0,158.87 L403.0,159.04 L404.0,159.21 L405.0,159.38 L406.0,159.55 L407.0,159.72 L408.0,159.89 L409.0,160.06 L410.0,160.23 L411.0,160.40 L412.0,160.57 L413.0,160.73 L414.0,160.90 L415.0,161.07 L416.0,161.23 L417.0,161.40" fill="none" stroke="#ff1a1a" stroke-width="1.05"/>
<g stroke="#ff0000" stroke-width="0.9" opacity="0.85" fill="none"><path d="M144.00,94.00 L144.00,110.30 M142.00,94.00 L146.00,94.00 M142.00,110.30 L146.00,110.30"/></g><path d="M141.10,106.00 L146.90,106.00 L144.00,100.40Z" fill="#ff0000"/><g stroke="#ff0000" stroke-width="0.9" opacity="0.85" fill="none"><path d="M184.90,106.60 L184.90,118.10 M182.90,106.60 L186.90,106.60 M182.90,118.10 L186.90,118.10"/></g><path d="M182.00,115.90 L187.80,115.90 L184.90,110.30Z" fill="#ff0000"/><g stroke="#ff0000" stroke-width="0.9" opacity="0.85" fill="none"><path d="M239.90,119.90 L239.90,125.80 M237.90,119.90 L241.90,119.90 M237.90,125.80 L241.90,125.80"/></g><path d="M237.00,126.00 L242.80,126.00 L239.90,120.40Z" fill="#ff0000"/><g stroke="#ff0000" stroke-width="0.9" opacity="0.85" fill="none"><path d="M291.00,137.40 L291.00,139.80 M289.00,137.40 L293.00,137.40 M289.00,139.80 L293.00,139.80"/></g><path d="M288.10,141.60 L293.90,141.60 L291.00,136.00Z" fill="#ff0000"/><g stroke="#ff0000" stroke-width="0.9" opacity="0.85" fill="none"><path d="M365.20,149.90 L365.20,160.40 M363.20,149.90 L367.20,149.90 M363.20,160.40 L367.20,160.40"/></g><path d="M362.30,158.00 L368.10,158.00 L365.20,152.40Z" fill="#ff0000"/><g stroke="#333399" stroke-width="0.9" opacity="0.8" fill="none"><path d="M144.00,150.60 L144.00,176.20 M142.00,150.60 L146.00,150.60 M142.00,176.20 L146.00,176.20"/></g><path d="M141.10,160.70 L146.90,160.70 L144.00,166.30Z" fill="#333399"/><g stroke="#333399" stroke-width="0.9" opacity="0.8" fill="none"><path d="M184.90,145.60 L184.90,170.20 M182.90,145.60 L186.90,145.60 M182.90,170.20 L186.90,170.20"/></g><path d="M182.00,155.30 L187.80,155.30 L184.90,160.90Z" fill="#333399"/><g stroke="#333399" stroke-width="0.9" opacity="0.8" fill="none"><path d="M239.90,133.80 L239.90,154.10 M237.90,133.80 L241.90,133.80 M237.90,154.10 L241.90,154.10"/></g><path d="M237.00,141.80 L242.80,141.80 L239.90,147.40Z" fill="#333399"/><g stroke="#333399" stroke-width="0.9" opacity="0.8" fill="none"><path d="M291.00,137.40 L291.00,139.80 M289.00,137.40 L293.00,137.40 M289.00,139.80 L293.00,139.80"/></g><path d="M288.10,135.50 L293.90,135.50 L291.00,141.10Z" fill="#333399"/><g stroke="#333399" stroke-width="0.9" opacity="0.8" fill="none"><path d="M365.20,106.50 L365.20,130.20 M363.20,106.50 L367.20,106.50 M363.20,130.20 L367.20,130.20"/></g><path d="M362.30,116.30 L368.10,116.30 L365.20,121.90Z" fill="#333399"/>
</g>
<g stroke="#8e8e8e" stroke-width="1" fill="none">
<rect x="51.5" y="4.5" width="363.0" height="224.0"/>
<g stroke-width="0.8" stroke="#666"><line x1="59.30" y1="228.5" x2="59.30" y2="224.0"/><line x1="59.30" y1="4.5" x2="59.30" y2="9.0"/><line x1="78.62" y1="228.5" x2="78.62" y2="225.8"/><line x1="78.62" y1="4.5" x2="78.62" y2="7.2"/><line x1="97.95" y1="228.5" x2="97.95" y2="225.8"/><line x1="97.95" y1="4.5" x2="97.95" y2="7.2"/><line x1="117.28" y1="228.5" x2="117.28" y2="225.8"/><line x1="117.28" y1="4.5" x2="117.28" y2="7.2"/><line x1="136.60" y1="228.5" x2="136.60" y2="224.0"/><line x1="136.60" y1="4.5" x2="136.60" y2="9.0"/><line x1="155.93" y1="228.5" x2="155.93" y2="225.8"/><line x1="155.93" y1="4.5" x2="155.93" y2="7.2"/><line x1="175.25" y1="228.5" x2="175.25" y2="225.8"/><line x1="175.25" y1="4.5" x2="175.25" y2="7.2"/><line x1="194.57" y1="228.5" x2="194.57" y2="225.8"/><line x1="194.57" y1="4.5" x2="194.57" y2="7.2"/><line x1="213.90" y1="228.5" x2="213.90" y2="224.0"/><line x1="213.90" y1="4.5" x2="213.90" y2="9.0"/><line x1="233.22" y1="228.5" x2="233.22" y2="225.8"/><line x1="233.22" y1="4.5" x2="233.22" y2="7.2"/><line x1="252.55" y1="228.5" x2="252.55" y2="225.8"/><line x1="252.55" y1="4.5" x2="252.55" y2="7.2"/><line x1="271.87" y1="228.5" x2="271.87" y2="225.8"/><line x1="271.87" y1="4.5" x2="271.87" y2="7.2"/><line x1="291.20" y1="228.5" x2="291.20" y2="224.0"/><line x1="291.20" y1="4.5" x2="291.20" y2="9.0"/><line x1="310.53" y1="228.5" x2="310.53" y2="225.8"/><line x1="310.53" y1="4.5" x2="310.53" y2="7.2"/><line x1="329.85" y1="228.5" x2="329.85" y2="225.8"/><line x1="329.85" y1="4.5" x2="329.85" y2="7.2"/><line x1="349.17" y1="228.5" x2="349.17" y2="225.8"/><line x1="349.17" y1="4.5" x2="349.17" y2="7.2"/><line x1="368.50" y1="228.5" x2="368.50" y2="224.0"/><line x1="368.50" y1="4.5" x2="368.50" y2="9.0"/><line x1="387.82" y1="228.5" x2="387.82" y2="225.8"/><line x1="387.82" y1="4.5" x2="387.82" y2="7.2"/><line x1="407.15" y1="228.5" x2="407.15" y2="225.8"/><line x1="407.15" y1="4.5" x2="407.15" y2="7.2"/><line x1="51.5" y1="223.70" x2="56.0" y2="223.70"/><line x1="414.5" y1="223.70" x2="410.0" y2="223.70"/><line x1="51.5" y1="215.09" x2="54.2" y2="215.09"/><line x1="414.5" y1="215.09" x2="411.8" y2="215.09"/><line x1="51.5" y1="206.48" x2="54.2" y2="206.48"/><line x1="414.5" y1="206.48" x2="411.8" y2="206.48"/><line x1="51.5" y1="197.88" x2="54.2" y2="197.88"/><line x1="414.5" y1="197.88" x2="411.8" y2="197.88"/><line x1="51.5" y1="189.27" x2="54.2" y2="189.27"/><line x1="414.5" y1="189.27" x2="411.8" y2="189.27"/><line x1="51.5" y1="180.66" x2="56.0" y2="180.66"/><line x1="414.5" y1="180.66" x2="410.0" y2="180.66"/><line x1="51.5" y1="172.05" x2="54.2" y2="172.05"/><line x1="414.5" y1="172.05" x2="411.8" y2="172.05"/><line x1="51.5" y1="163.44" x2="54.2" y2="163.44"/><line x1="414.5" y1="163.44" x2="411.8" y2="163.44"/><line x1="51.5" y1="154.84" x2="54.2" y2="154.84"/><line x1="414.5" y1="154.84" x2="411.8" y2="154.84"/><line x1="51.5" y1="146.23" x2="54.2" y2="146.23"/><line x1="414.5" y1="146.23" x2="411.8" y2="146.23"/><line x1="51.5" y1="137.62" x2="56.0" y2="137.62"/><line x1="414.5" y1="137.62" x2="410.0" y2="137.62"/><line x1="51.5" y1="129.01" x2="54.2" y2="129.01"/><line x1="414.5" y1="129.01" x2="411.8" y2="129.01"/><line x1="51.5" y1="120.40" x2="54.2" y2="120.40"/><line x1="414.5" y1="120.40" x2="411.8" y2="120.40"/><line x1="51.5" y1="111.80" x2="54.2" y2="111.80"/><line x1="414.5" y1="111.80" x2="411.8" y2="111.80"/><line x1="51.5" y1="103.19" x2="54.2" y2="103.19"/><line x1="414.5" y1="103.19" x2="411.8" y2="103.19"/><line x1="51.5" y1="94.58" x2="56.0" y2="94.58"/><line x1="414.5" y1="94.58" x2="410.0" y2="94.58"/><line x1="51.5" y1="85.97" x2="54.2" y2="85.97"/><line x1="414.5" y1="85.97" x2="411.8" y2="85.97"/><line x1="51.5" y1="77.36" x2="54.2" y2="77.36"/><line x1="414.5" y1="77.36" x2="411.8" y2="77.36"/><line x1="51.5" y1="68.76" x2="54.2" y2="68.76"/><line x1="414.5" y1="68.76" x2="411.8" y2="68.76"/><line x1="51.5" y1="60.15" x2="54.2" y2="60.15"/><line x1="414.5" y1="60.15" x2="411.8" y2="60.15"/><line x1="51.5" y1="51.54" x2="56.0" y2="51.54"/><line x1="414.5" y1="51.54" x2="410.0" y2="51.54"/><line x1="51.5" y1="42.93" x2="54.2" y2="42.93"/><line x1="414.5" y1="42.93" x2="411.8" y2="42.93"/><line x1="51.5" y1="34.32" x2="54.2" y2="34.32"/><line x1="414.5" y1="34.32" x2="411.8" y2="34.32"/><line x1="51.5" y1="25.72" x2="54.2" y2="25.72"/><line x1="414.5" y1="25.72" x2="411.8" y2="25.72"/><line x1="51.5" y1="17.11" x2="54.2" y2="17.11"/><line x1="414.5" y1="17.11" x2="411.8" y2="17.11"/><line x1="51.5" y1="8.50" x2="56.0" y2="8.50"/><line x1="414.5" y1="8.50" x2="410.0" y2="8.50"/></g>
</g>
<text x="59.30" y="244.6" text-anchor="middle">0.4</text><text x="136.60" y="244.6" text-anchor="middle">0.6</text><text x="213.90" y="244.6" text-anchor="middle">0.8</text><text x="291.20" y="244.6" text-anchor="middle">1.0</text><text x="368.50" y="244.6" text-anchor="middle">1.2</text><text x="48.3" y="228.40" text-anchor="end">0.8</text><text x="48.3" y="185.36" text-anchor="end">0.9</text><text x="48.3" y="142.32" text-anchor="end">1.0</text><text x="48.3" y="99.28" text-anchor="end">1.1</text><text x="48.3" y="56.24" text-anchor="end">1.2</text><text x="48.3" y="13.20" text-anchor="end">1.3</text>
<!-- legend -->
<rect x="361.5" y="176.6" width="48.3" height="44.8" fill="#fff" stroke="#3c3c3c" stroke-width="1.15"/>
<path d="M371.80,192.80 L377.60,192.80 L374.70,187.10Z" fill="#ff0000"/>
<path d="M371.80,208.60 L377.40,208.60 L374.60,213.90Z" fill="#333399"/>
<path d="M388.40,182.50 L386.00,187.20 L388.40,191.90" fill="none" stroke="#000" stroke-width="0.75"/><text x="388.90" y="190.00" class="it" style="font-size:10.5px" >x</text><path d="M394.60,182.50 L397.10,187.20 L394.60,191.90" fill="none" stroke="#000" stroke-width="0.75"/><text x="398.50" y="185.60" style="font-size:7.2px" >Σ</text><text x="398.60" y="192.30" class="it" style="font-size:7.8px" >s</text>
<path d="M388.40,202.80 L386.00,207.50 L388.40,212.20" fill="none" stroke="#000" stroke-width="0.75"/><text x="388.90" y="210.30" class="it" style="font-size:10.5px" >x</text><path d="M394.60,202.80 L397.10,207.50 L394.60,212.20" fill="none" stroke="#000" stroke-width="0.75"/><text x="398.50" y="205.90" style="font-size:7.2px" >Ξ</text><text x="398.60" y="212.60" class="it" style="font-size:7.8px" >u</text>
<text x="201.60" y="267.40" style="font-size:13.7px" >(</text><text x="205.00" y="267.40" class="it" style="font-size:14.0px" >m</text><text x="215.20" y="269.30" class="it" style="font-size:11px" >π</text><text x="220.40" y="267.40" style="font-size:13.7px" >)</text><text x="225.20" y="263.40" style="font-size:10.2px" >2</text><text x="230.90" y="267.40" style="font-size:13.7px" >/</text><text x="234.50" y="267.40" style="font-size:13.7px" >(</text><text x="238.40" y="267.40" class="it" style="font-size:14.0px" >X</text><text x="248.20" y="269.30" class="it" style="font-size:11px" >π</text><text x="253.90" y="267.40" style="font-size:13.7px" >)</text><text x="258.40" y="263.40" style="font-size:10.2px" >2</text>
<g transform="translate(15.7,141) rotate(-90)">
<path d="M3.00,-9.80 L0.00,-4.10 L3.00,1.60" fill="none" stroke="#000" stroke-width="0.9"/><text x="3.30" y="-0.80" style="font-size:15.3px" textLength="5.9" lengthAdjust="spacingAndGlyphs" stroke="#000" stroke-width="0.12">x</text><path d="M10.50,-9.80 L13.50,-4.10 L10.50,1.60" fill="none" stroke="#000" stroke-width="0.9"/><text x="15.00" y="-6.20" class="it" style="font-size:9.0px" >B</text><text x="15.30" y="1.00" class="it" style="font-size:9.0px" >q</text><path d="M22.3,1.6 L26.5,-9.8" stroke="#000" stroke-width="0.9" fill="none"/><path d="M31.10,-9.80 L28.10,-4.10 L31.10,1.60" fill="none" stroke="#000" stroke-width="0.9"/><text x="31.40" y="-0.80" style="font-size:15.3px" textLength="5.9" lengthAdjust="spacingAndGlyphs" stroke="#000" stroke-width="0.12">x</text><path d="M38.40,-9.80 L41.40,-4.10 L38.40,1.60" fill="none" stroke="#000" stroke-width="0.9"/><text x="43.00" y="-6.20" class="it" style="font-size:9.0px" >P</text><text x="43.30" y="2.50" class="it" style="font-size:9.0px" >d</text>
</g>
</svg>
</body></html>
